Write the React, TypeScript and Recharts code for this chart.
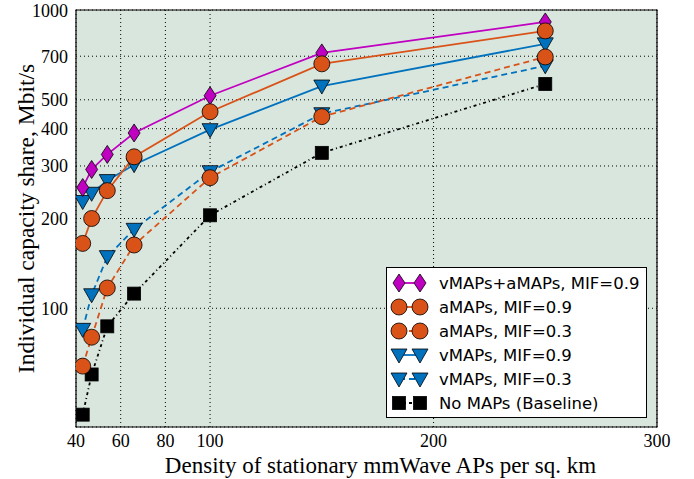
import React from 'react'
import {
  CartesianGrid,
  Legend,
  Line,
  LineChart,
  ReferenceArea,
  XAxis,
  YAxis,
} from 'recharts'

// values
const density = [43, 47, 54, 66, 100, 150, 250]
const vaMif09 = [254, 292, 328, 387, 516, 718, 912]
const aMif09 = [165, 200, 248, 322, 456, 660, 851]
const aMif03 = [64, 80, 117, 163, 274, 439, 696]
const vMif09 = [228, 243, 268, 303, 397, 556, 770]
const vMif03 = [85, 111, 149, 184, 287, 449, 650]
const baseline = [44, 60, 87, 112, 205, 332, 565]

const xTicks = [40, 60, 80, 100, 200, 300]
const yTicks = [100, 200, 300, 400, 500, 700, 1000]

const MAGENTA = '#c000c0'
const ORANGE = '#d95319'
const BLUE = '#0072bd'
const SERIF = '"Liberation Serif", "Times New Roman", serif'
const SANS = '"DejaVu Sans", sans-serif'

const data = density.map((d, i) => ({
  density: d,
  vaMif09: vaMif09[i],
  aMif09: aMif09[i],
  aMif03: aMif03[i],
  vMif09: vMif09[i],
  vMif03: vMif03[i],
  baseline: baseline[i],
}))

type Shape = 'diamond' | 'circle' | 'triangle' | 'square'

const Marker = ({ shape, cx, cy, color }: { shape: Shape; cx: number; cy: number; color: string }) => {
  if (shape === 'diamond') {
    return (
      <polygon
        points={`${cx},${cy - 9} ${cx + 6},${cy} ${cx},${cy + 9} ${cx - 6},${cy}`}
        fill={color}
        stroke='#000'
        strokeWidth={0.8}
      />
    )
  }
  if (shape === 'circle') {
    return <circle cx={cx} cy={cy} r={8} fill={color} stroke='#000' strokeWidth={0.8} />
  }
  if (shape === 'triangle') {
    return (
      <polygon
        points={`${cx - 8},${cy - 6} ${cx + 8},${cy - 6} ${cx},${cy + 8}`}
        fill={color}
        stroke='#000'
        strokeWidth={0.8}
      />
    )
  }
  return <rect x={cx - 6.5} y={cy - 6.5} width={13} height={13} fill={color} stroke='#000' strokeWidth={0.8} />
}

const dotFor = (shape: Shape, color: string) => (props: any) => (
  <g key={`${shape}-${color}-${props.index}`}>
    <Marker shape={shape} cx={props.cx} cy={props.cy} color={color} />
  </g>
)

const legendItems: { name: string; color: string; shape: Shape; dash?: string }[] = [
  { name: 'vMAPs+aMAPs, MIF=0.9', color: MAGENTA, shape: 'diamond' },
  { name: 'aMAPs, MIF=0.9', color: ORANGE, shape: 'circle' },
  { name: 'aMAPs, MIF=0.3', color: ORANGE, shape: 'circle', dash: '6 4' },
  { name: 'vMAPs, MIF=0.9', color: BLUE, shape: 'triangle' },
  { name: 'vMAPs, MIF=0.3', color: BLUE, shape: 'triangle', dash: '6 4' },
  { name: 'No MAPs (Baseline)', color: '#000', shape: 'square', dash: '3 3 1 3' },
]

const LegendBox = () => (
  <div
    style={{
      border: '1px solid #000',
      background: '#fff',
      padding: '3px 0 2px 0',
      fontFamily: SANS,
      fontSize: 16.5,
    }}
  >
    {legendItems.map((it) => (
      <div key={it.name} style={{ display: 'flex', alignItems: 'center', height: 24 }}>
        <svg width={52} height={24} style={{ flex: 'none' }}>
          <line x1={12} x2={33} y1={12} y2={12} stroke={it.color} strokeWidth={1.8} strokeDasharray={it.dash} />
          <Marker shape={it.shape} cx={12} cy={12} color={it.color} />
          <Marker shape={it.shape} cx={33} cy={12} color={it.color} />
        </svg>
        <span style={{ color: '#000', whiteSpace: 'nowrap' }}>{it.name}</span>
      </div>
    ))}
  </div>
)

export default function App() {
  return (
    <div style={{ position: 'absolute', left: 0, top: 0, background: '#fff' }}>
      <LineChart width={694} height={479} data={data} margin={{ top: 10, right: 37, left: 0, bottom: 0 }}>
        <CartesianGrid stroke='#000' strokeDasharray='1 3' fill='#d9e6de' fillOpacity={1} />
        <XAxis
          dataKey='density'
          type='number'
          domain={[40, 300]}
          ticks={xTicks}
          allowDataOverflow
          height={52}
          tickLine={false}
          axisLine={false}
          tickMargin={1}
          tick={{ fill: '#000', fontFamily: SERIF, fontSize: 18 }}
          label={(p: any) => (
            <text
              x={p.viewBox.x + p.viewBox.width / 2 + 14}
              y={473}
              textAnchor='middle'
              fontFamily={SERIF}
              fontSize={23}
              fill='#000'
            >
              Density of stationary mmWave APs per sq. km
            </text>
          )}
        />
        <YAxis
          scale='log'
          domain={[40, 1000]}
          ticks={yTicks}
          allowDataOverflow
          width={76}
          tickLine={false}
          axisLine={false}
          tickMargin={2}
          tick={{ fill: '#000', fontFamily: SERIF, fontSize: 18 }}
          label={(p: any) => (
            <text
              x={26}
              y={p.viewBox.y + p.viewBox.height / 2}
              transform={`rotate(-90, 26, ${p.viewBox.y + p.viewBox.height / 2})`}
              textAnchor='middle'
              dominantBaseline='central'
              fontFamily={SERIF}
              fontSize={23.5}
              fill='#000'
            >
              Individual capacity share, Mbit/s
            </text>
          )}
        />
        <ReferenceArea x1={40} x2={300} y1={40} y2={1000} fill='none' stroke='#000' strokeWidth={1.2} />
        <Line
          dataKey='baseline'
          type='linear'
          stroke='#000'
          strokeWidth={1.8}
          strokeDasharray='3 3 1 3'
          dot={dotFor('square', '#000')}
          isAnimationActive={false}
        />
        <Line
          dataKey='vMif03'
          type='linear'
          stroke={BLUE}
          strokeWidth={1.8}
          strokeDasharray='6 4'
          dot={dotFor('triangle', BLUE)}
          isAnimationActive={false}
        />
        <Line
          dataKey='vMif09'
          type='linear'
          stroke={BLUE}
          strokeWidth={1.8}
          dot={dotFor('triangle', BLUE)}
          isAnimationActive={false}
        />
        <Line
          dataKey='vaMif09'
          type='linear'
          stroke={MAGENTA}
          strokeWidth={1.8}
          dot={dotFor('diamond', MAGENTA)}
          isAnimationActive={false}
        />
        <Line
          dataKey='aMif03'
          type='linear'
          stroke={ORANGE}
          strokeWidth={1.8}
          strokeDasharray='6 4'
          dot={dotFor('circle', ORANGE)}
          isAnimationActive={false}
        />
        <Line
          dataKey='aMif09'
          type='linear'
          stroke={ORANGE}
          strokeWidth={1.8}
          dot={dotFor('circle', ORANGE)}
          isAnimationActive={false}
        />
        <Legend
          verticalAlign='middle'
          layout='horizontal'
          content={() => <LegendBox />}
          wrapperStyle={{ position: 'absolute', left: 386, top: 267, width: 261, height: 'auto' }}
        />
      </LineChart>
    </div>
  )
}
